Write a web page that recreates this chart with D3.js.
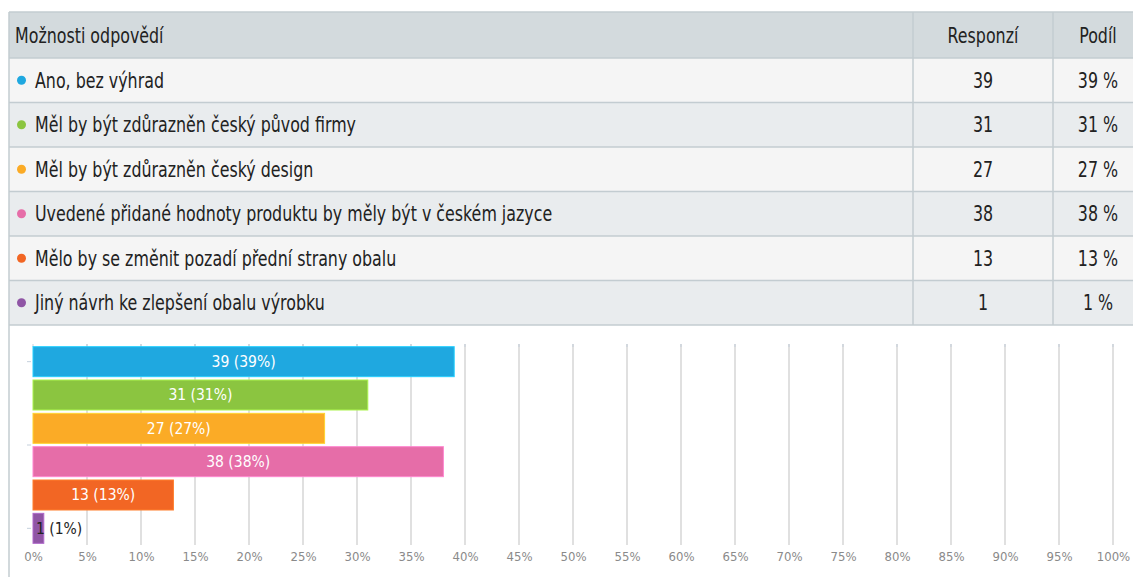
<!DOCTYPE html>
<html>
<head>
<meta charset="utf-8">
<script src="https://cdn.jsdelivr.net/npm/d3@7"></script>
<style>
  body { margin: 0; background: #fff; }
  svg { display: block; }
  text { font-stretch: condensed; }
</style>
</head>
<body>
<svg id="chart" width="1133" height="577"></svg>
<script>
const categories = [
  "Ano, bez výhrad",
  "Měl by být zdůrazněn český původ firmy",
  "Měl by být zdůrazněn český design",
  "Uvedené přidané hodnoty produktu by měly být v českém jazyce",
  "Mělo by se změnit pozadí přední strany obalu",
  "Jiný návrh ke zlepšení obalu výrobku"
]
const counts = [39, 31, 27, 38, 13, 1]
const shares = [39, 31, 27, 38, 13, 1]
const colors = ["#1fa8e0", "#8bc540", "#fbab26", "#e66da8", "#f26624", "#8f55a5"]
const headers = ["Možnosti odpovědí", "Responzí", "Podíl"]
const xTicks = d3.range(0, 101, 5)

let svg = d3.select('#chart')
let tableFont = '"DejaVu Sans", sans-serif'
let squeeze = 0.84  // table font is a narrow one, squeeze DejaVu to fit

// ---- table ----
let table = {left: 9, right: 1143, top: 12, headH: 46, rowH: 44.5}
let colX = [table.left, 913, 1053, table.right]
let cellX = [35, (colX[1] + colX[2])/2, 1098]

function cellText(sel, x, y, anchor, txt) {
  sel.append('text')
    .attr('transform', `translate(${x} ${y}) scale(${squeeze} 1)`)
    .attr('dy', '0.36em')
    .attr('text-anchor', anchor)
    .attr('font-family', tableFont)
    .attr('font-size', 21)
    .attr('fill', '#222')
    .text(txt)
}

svg.append('rect')
  .attr('x', table.left).attr('y', table.top)
  .attr('width', table.right - table.left).attr('height', table.headH)
  .attr('fill', '#d3dadd')

let rows = svg.selectAll('g.row')
  .data(categories)
  .enter()
  .append('g')
  .attr('class', 'row')
  .attr('transform', (d, i) => `translate(0 ${table.top + table.headH + i*table.rowH})`)

rows.append('rect')
  .attr('x', table.left)
  .attr('width', table.right - table.left)
  .attr('height', table.rowH)
  .attr('fill', (d, i) => i % 2 ? '#e9ecee' : '#f5f5f5')

rows.append('circle')
  .attr('cx', 21.5)
  .attr('cy', table.rowH/2)
  .attr('r', 4.5)
  .attr('fill', (d, i) => colors[i])

rows.each(function(d, i) {
  let r = d3.select(this)
  cellText(r, cellX[0], table.rowH/2, 'start', d)
  cellText(r, cellX[1], table.rowH/2, 'middle', counts[i])
  cellText(r, cellX[2], table.rowH/2, 'middle', shares[i] + ' %')
})

let head = svg.append('g')
headers.forEach((h, i) => {
  cellText(head, i == 0 ? 15 : cellX[i], table.top + table.headH/2, i == 0 ? 'start' : 'middle', h)
})

let tableBottom = table.top + table.headH + categories.length*table.rowH

// horizontal lines
let lineYs = [table.top, table.top + table.headH].concat(categories.map((d, i) => table.top + table.headH + (i+1)*table.rowH))
svg.selectAll('line.hline')
  .data(lineYs)
  .enter()
  .append('line')
  .attr('x1', table.left).attr('x2', table.right)
  .attr('y1', d => d).attr('y2', d => d)
  .attr('stroke', '#c3ccd1')
  .attr('stroke-width', 1.5)

// vertical lines
svg.selectAll('line.vline')
  .data(colX.slice(1, 3))
  .enter()
  .append('line')
  .attr('x1', d => d).attr('x2', d => d)
  .attr('y1', table.top).attr('y2', tableBottom)
  .attr('stroke', '#c3ccd1')
  .attr('stroke-width', 1.5)

// outer left border down through chart area
svg.append('line')
  .attr('x1', table.left).attr('x2', table.left)
  .attr('y1', table.top).attr('y2', 577)
  .attr('stroke', '#c3ccd1')
  .attr('stroke-width', 1.5)

// ---- bar chart ----
let plot = {left: 33, right: 1113, top: 344, bottom: 545}

let xScale = d3.scaleLinear()
  .domain([0, 100])
  .range([plot.left, plot.right])

let yScale = d3.scaleBand()
  .domain(d3.range(categories.length))
  .range([plot.top + 1, plot.bottom])
  .paddingInner(0.1)
  .paddingOuter(0.05)

let yTickScale = d3.scaleLinear()
  .domain([0, categories.length])
  .range([plot.top + 1, plot.bottom])

let chart = svg.append('g').attr('class', 'bars')

// grid
chart.selectAll('line.grid')
  .data(xTicks.slice(1))
  .enter()
  .append('line')
  .attr('class', 'grid')
  .attr('x1', d => xScale(d)).attr('x2', d => xScale(d))
  .attr('y1', plot.top).attr('y2', plot.bottom)
  .attr('stroke', '#cccccc')
  .attr('stroke-width', 1.2)

// small ticks at top
chart.selectAll('line.ttick')
  .data(xTicks)
  .enter()
  .append('line')
  .attr('x1', d => xScale(d)).attr('x2', d => xScale(d))
  .attr('y1', plot.top).attr('y2', plot.top + 3)
  .attr('stroke', '#c5d0dc')

// x axis labels
let xAxis = d3.axisBottom(xScale)
  .tickValues(xTicks)
  .tickFormat(d => d + '%')
  .tickSize(0)
  .tickPadding(7)

let xg = chart.append('g')
  .attr('transform', `translate(0 ${plot.bottom})`)
  .call(xAxis)
xg.select('.domain').remove()
xg.selectAll('text')
  .attr('font-family', '"DejaVu Sans", sans-serif')
  .attr('font-size', 13)
  .attr('fill', '#8a8a8a')

// left axis tiny ticks
chart.selectAll('line.ytick')
  .data([0.5, 3, 5.5])
  .enter()
  .append('line')
  .attr('x1', plot.left - 6).attr('x2', plot.left - 2)
  .attr('y1', d => yTickScale(d)).attr('y2', d => yTickScale(d))
  .attr('stroke', '#c5d0dc')

// bars
chart.selectAll('rect.bar')
  .data(counts)
  .enter()
  .append('rect')
  .attr('class', 'bar')
  .attr('x', xScale(0))
  .attr('y', (d, i) => yScale(i))
  .attr('width', (d, i) => xScale(shares[i]) - xScale(0))
  .attr('height', yScale.bandwidth())
  .attr('fill', (d, i) => colors[i])
  .attr('stroke', (d, i) => d3.color(colors[i]).brighter(0.6))
  .attr('stroke-width', 1)

// bar labels
chart.selectAll('text.barlabel')
  .data(counts)
  .enter()
  .append('text')
  .attr('class', 'barlabel')
  .attr('y', (d, i) => yScale(i) + yScale.bandwidth()/2)
  .attr('dy', '0.35em')
  .attr('font-family', '"DejaVu Sans", sans-serif')
  .attr('font-size', 15.5)
  .text((d, i) => `${d} (${shares[i]}%)`)
  .each(function(d, i) {
    let w = xScale(shares[i]) - xScale(0)
    let t = d3.select(this)
    if (w > 80) {
      t.attr('x', xScale(0) + w/2).attr('text-anchor', 'middle').attr('fill', '#fff')
    } else {
      t.attr('x', xScale(0) + 3).attr('text-anchor', 'start').attr('fill', '#222')
    }
  })
</script>
</body>
</html>
